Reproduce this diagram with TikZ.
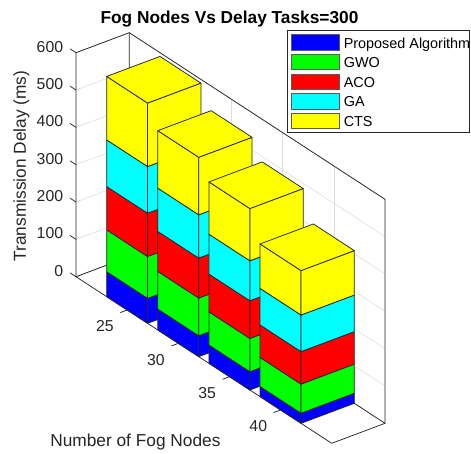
\documentclass[tikz,border=0pt]{standalone}
\usepackage{fontspec}
\setmainfont{Liberation Sans}

\definecolor{axcol}{RGB}{38,38,38}
\definecolor{gridcol}{RGB}{222,222,222}
\definecolor{cBlue}{RGB}{0,0,255}
\definecolor{cGreen}{RGB}{0,255,0}
\definecolor{cRed}{RGB}{255,0,0}
\definecolor{cCyan}{RGB}{0,255,255}
\definecolor{cYellow}{RGB}{255,255,0}

\tikzset{
  axline/.style={draw=axcol, line width=0.75pt, line cap=round, line join=round},
  gridline/.style={draw=gridcol, line width=0.6pt},
  face/.style={draw=black!85, line width=0.75pt, line join=round},
  ticklab/.style={text=axcol, inner sep=0pt, font=\fontsize{15.8}{16}\selectfont},
  axlab/.style={text=axcol, inner sep=0pt, font=\fontsize{17.3}{18}\selectfont},
  titlelab/.style={text=black, inner sep=0pt, font=\fontsize{17.3}{18}\selectfont\bfseries},
  legframe/.style={draw=axcol, line width=0.6pt, fill=white},
  legpatch/.style={draw=black!65, line width=0.8pt},
  legtext/.style={text=black, inner sep=0pt, anchor=base west, font=\fontsize{14.4}{15}\selectfont},
  % oblique projection of the (depth, fog node, delay) axes
  proj/.style={shift={(76pt,-276.7pt)}, x={(53.3pt,20pt)}, y={(255.7pt,-166.6pt)}, z={(0pt,0.37333pt)}}
}

% one stacked segment: front face and right face
\newcommand\barseg[5]{%
  \filldraw[face, fill=#5] (0,#1,#3) -- (0,#2,#3) -- (0,#2,#4) -- (0,#1,#4) -- cycle;
  \filldraw[face, fill=#5] (0,#2,#3) -- (1,#2,#3) -- (1,#2,#4) -- (0,#2,#4) -- cycle;
}

\begin{document}
\begin{tikzpicture}[x=1pt, y=-1pt]
  \fill[white] (0,0) rectangle (471,453);
  \useasboundingbox (0,0) rectangle (471,453);

  \begin{scope}[proj]
    % grid on the left wall and the back wall
    \foreach \z in {0,100,...,600} {
      \draw[gridline] (0,0,\z) -- (1,0,\z) -- (1,1,\z);
    }
    \foreach \k in {1,2,3,4} {
      \draw[gridline] (1,0.2*\k,0) -- (1,0.2*\k,600);
    }
    % axes box (back planes)
    \draw[axline] (0,0,0) -- (0,0,600) -- (1,0,600) -- (1,1,600) -- (1,1,0) -- (0,1,0) -- cycle;
    \draw[axline] (0,0,0) -- (1,0,0) -- (1,0,600);
    \draw[axline] (1,0,0) -- (1,1,0);
    % tick marks
    \foreach \z in {0,100,...,600} {
      \draw[axline] (0,0,\z) -- ++(0,-0.023,0);
    }
    \foreach \k in {1,2,3,4} {
      \draw[axline] (0,0.2*\k,0) -- ++(-0.125,0,0);
    }
    % stacked bars
    \foreach \k/\a/\b/\c/\d/\e in {1/67/179/295/420/590, 2/56/157/264/380/534,
                                   3/49/138/239/346/486, 4/27/105/192/290/409} {
      \pgfmathsetmacro\vl{0.2*\k-0.08}
      \pgfmathsetmacro\vr{0.2*\k+0.08}
      \barseg{\vl}{\vr}{0}{\a}{cBlue}
      \barseg{\vl}{\vr}{\a}{\b}{cGreen}
      \barseg{\vl}{\vr}{\b}{\c}{cRed}
      \barseg{\vl}{\vr}{\c}{\d}{cCyan}
      \barseg{\vl}{\vr}{\d}{\e}{cYellow}
      \filldraw[face, fill=cYellow] (0,\vl,\e) -- (0,\vr,\e) -- (1,\vr,\e) -- (1,\vl,\e) -- cycle;
    }
  \end{scope}

  % delay tick labels
  \foreach \z in {0,100,...,600} {
    \node[ticklab, anchor=base east] (zt\z) at (63.3, {276.2-0.37333*\z}) {\z};
  }
  % fog node tick labels
  \foreach \k/\t in {1/25, 2/30, 3/35, 4/40} {
    \node[ticklab] (yt\t) at ({76+51.14*\k-22.3}, {276.7+33.32*\k+16.5}) {\t};
  }

  % titles
  \node[titlelab, anchor=base] (title) at (229.5, 23.3) {Fog Nodes Vs Delay Tasks=300};
  \node[axlab, anchor=base, rotate=90] (zlabel) at (25.8, 166) {Transmission Delay (ms)};
  \node[axlab, anchor=base] (ylabel) at (135.4, 446.7) {Number of Fog Nodes};

  % legend
  \draw[legframe] (287.3,30) rectangle (469.5,132.7);
  \foreach \i/\c/\t in {0/cBlue/Proposed Algorithm, 1/cGreen/GWO, 2/cRed/ACO, 3/cCyan/GA, 4/cYellow/CTS} {
    \filldraw[legpatch, fill=\c] (291.7, {34.7+19.65*\i}) rectangle (339.3, {50.1+19.65*\i});
    \node[legtext] (leg\i) at (343.6, {42.4+19.65*\i+5.6}) {\t};
  }
\end{tikzpicture}
\end{document}
